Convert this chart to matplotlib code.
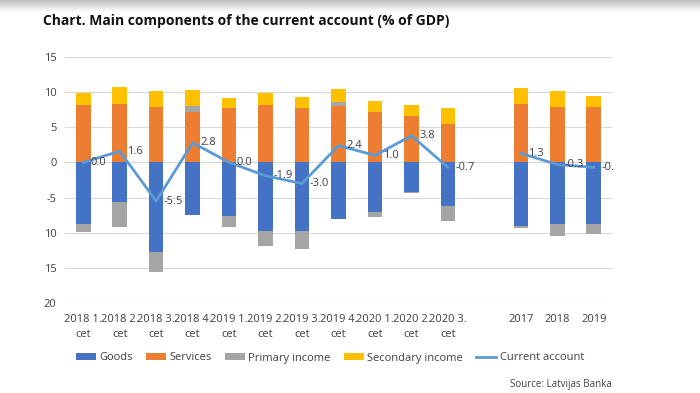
import numpy as np
import matplotlib.pyplot as plt
from matplotlib.patches import Rectangle

plt.rcParams['font.family'] = ['Open Sans', 'DejaVu Sans']

# quarters, one empty slot, then years
periods = ['2018 1.\ncet', '2018 2.\ncet', '2018 3.\ncet', '2018 4.\ncet',
           '2019 1.\ncet', '2019 2.\ncet', '2019 3.\ncet', '2019 4.\ncet',
           '2020 1.\ncet', '2020 2.\ncet', '2020 3.\ncet', '',
           '2017', '2018', '2019']
nan = np.nan
goods     = [-8.7, -5.7, -12.8, -7.45, -7.6, -9.7, -9.7, -8.05, -7.1, -4.15, -6.2, nan, -9.1, -8.8, -8.8]
services  = [8.1, 8.35, 7.9, 7.2, 7.8, 8.1, 7.8, 8.0, 7.2, 6.6, 5.5, nan, 8.35, 7.9, 7.9]
primary   = [-1.2, -3.5, -2.8, 0.8, -1.6, -2.15, -2.6, 0.6, -0.6, -0.25, -2.2, nan, -0.2, -1.6, -1.4]
secondary = [1.8, 2.45, 2.2, 2.3, 1.4, 1.75, 1.5, 1.9, 1.5, 1.6, 2.2, nan, 2.2, 2.2, 1.6]
current   = [0.0, 1.6, -5.5, 2.8, 0.0, -1.9, -3.0, 2.4, 1.0, 3.8, -0.7, nan, 1.3, -0.3, -0.7]

yticks = [15, 10, 5, 0, -5, -10, -15, -20]
ytick_labels = ['15', '10', '5', '0', '-5', '10', '15', '20']

series = [('Goods', goods, '#4472C4'),
          ('Services', services, '#ED7D31'),
          ('Primary income', primary, '#A5A5A5'),
          ('Secondary income', secondary, '#FFC000')]

fig = plt.figure(figsize=(7, 3.93), dpi=100)
ax = fig.add_axes([65/700, 1-303/393, 547/700, 246/393])

x = np.arange(len(periods))
pos = np.zeros(len(x))
neg = np.zeros(len(x))
handles = []
for name, vals, col in series:
    v = np.nan_to_num(np.array(vals, dtype=float))
    bottom = np.where(v >= 0, pos, neg)
    b = ax.bar(x, v, 0.4, bottom=bottom, color=col, label=name, zorder=2)
    handles.append(b)
    pos = pos + np.where(v >= 0, v, 0)
    neg = neg + np.where(v < 0, v, 0)

line, = ax.plot(x, current, color='#5B9BD5', lw=2, label='Current account', zorder=3)
handles.append(line)

# labels right of the points; clip a bit past the plot edge like the original
clip = Rectangle((65, 0), 549, 393, transform=None)
for xi, c in zip(x, current):
    if np.isnan(c):
        continue
    t = ax.annotate('%.1f' % c, (xi, c), xytext=(5.5, 0), textcoords='offset points',
                    ha='left', va='center', fontsize=8, color='#404040',
                    zorder=4, annotation_clip=False)
    t.set_clip_path(clip)

ax.set_xlim(-0.5, len(x) - 0.5)
ax.set_ylim(-20, 15)
ax.set_yticks(yticks)
ax.set_yticklabels(ytick_labels)
ax.set_xticks(x)
ax.set_xticklabels(periods)
ax.tick_params(length=0, labelsize=8, colors='#404040', pad=6)
ax.tick_params(axis='x', labelsize=8, pad=8)
for lbl in ax.get_xticklabels():
    lbl.set_linespacing(1.5)
ax.grid(axis='y', color='#D9D9D9', lw=0.8, zorder=0)
for s in ax.spines.values():
    s.set_visible(False)

fig.legend(handles=handles, loc='center', bbox_to_anchor=(330/700, 1-358/393), ncol=5,
           frameon=False, fontsize=8, handlelength=1.8, handleheight=0.5,
           handletextpad=0.3, columnspacing=1.2, labelcolor='#404040')

fig.text(43/700, 1-21/393, 'Chart. Main components of the current account (% of GDP)',
         fontsize=10, fontweight='bold', va='center', color='#111111')
fig.text(612/700, 1-384/393, 'Source: Latvijas Banka', fontsize=7, ha='right',
         va='center', color='#404040')

# grey shadow at the top edge
shade = fig.add_axes([0, 1-12/393, 1, 12/393], zorder=-1)
shade.imshow(np.linspace(0.75, 1, 50)[:, None], cmap='gray', vmin=0, vmax=1,
             aspect='auto', extent=[0, 1, 0, 1])
shade.axis('off')

fig.savefig('out.png', dpi=100)
